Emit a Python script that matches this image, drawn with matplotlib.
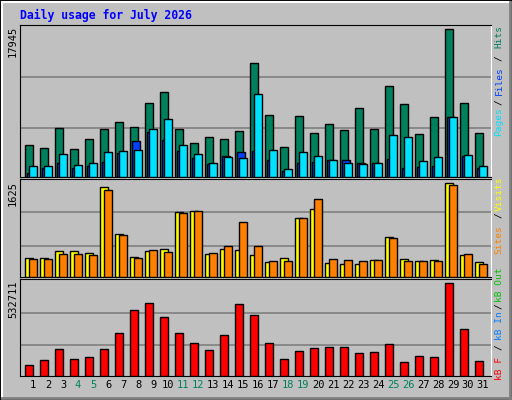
import matplotlib.pyplot as plt
import numpy as np
from matplotlib.lines import Line2D

days = np.arange(1, 32)
weekend = [4, 5, 11, 12, 18, 19, 25, 26]

hits = [3940, 3570, 6010, 3450, 4670, 5890, 6740, 6130, 9050, 10270, 5890, 4180,
        4910, 4670, 5640, 13800, 7590, 3690, 7470, 5400, 6500, 5770, 8440, 5890,
        11000, 8810, 5280, 7230, 17945, 9050, 5400]
files = [490, 1140, 1750, 1140, 1380, 1870, 2960, 4430, 5520, 4550, 3210, 2350,
         1620, 2600, 3090, 3210, 2110, 770, 1750, 1870, 2110, 2110, 1750, 1750,
         2230, 1140, 1260, 1380, 7350, 2600, 1140]
pages = [1380, 1380, 2840, 1500, 1750, 3090, 3210, 3330, 5890, 7100, 3940, 2840,
         1750, 2480, 2350, 10030, 3330, 1020, 3090, 2600, 2110, 1750, 1620, 1750,
         5160, 4910, 1990, 2480, 7350, 2720, 1380]
visits = [323, 323, 446, 446, 411, 1555, 745, 340, 446, 481, 1132, 1150,
          393, 481, 464, 376, 252, 323, 1027, 1185, 235, 217, 217, 288,
          692, 305, 270, 288, 1625, 376, 252]
sites = [305, 305, 393, 393, 376, 1502, 728, 323, 464, 428, 1115, 1150,
         411, 534, 957, 534, 270, 270, 1027, 1361, 305, 288, 270, 288,
         675, 270, 270, 270, 1590, 393, 217]
kbytes = [60270, 89430, 153590, 95270, 106930, 153590, 246910, 381070, 421900, 340240,
          246910, 188590, 147760, 235250, 416060, 351900, 188590, 95270, 141930, 159420,
          165260, 165260, 130260, 136100, 182750, 77770, 112760, 106930, 532711, 270250, 83600]

BG = '#C0C0C0'
W, H = 512, 400

fig = plt.figure(figsize=(W / 100, H / 100), dpi=100, facecolor=BG)


def px_axes(top, bottom, left=20, right=491):
    return fig.add_axes([left / W, 1 - bottom / H, (right - left) / W, (bottom - top) / H])


def style(ax, top_val, max_h_frac, grid):
    ax.set_facecolor(BG)
    ax.set_xlim(0.13, 31.53)
    ax.set_ylim(0, top_val / max_h_frac)
    for g in grid:
        ax.axhline(top_val * g, color='#808080', lw=1.2, zorder=0)
    ax.set_yticks([])
    ax.tick_params(axis='x', length=0)
    for s in ['left', 'top', 'bottom']:
        ax.spines[s].set_color('black')
    ax.spines['right'].set_color('white')


bw = 0.49
kw = dict(width=bw, align='edge', edgecolor='black', linewidth=1, zorder=3)

ax1 = px_axes(25.3, 177)
style(ax1, 17945, 442 / 454, [0.335, 0.68])
ax1.bar(days - 0.51, hits, color='#00805C', **kw)
ax1.bar(days - 0.38, files, color='#0040FF', **kw)
ax1.bar(days - 0.24, pages, color='#00E0FF', **kw)
ax1.set_xticks([])

ax2 = px_axes(179, 276.7)
style(ax2, 1625, 277 / 290, [0.33, 0.69])
ax2.bar(days - 0.51, visits, color='#FFFF00', **kw)
ax2.bar(days - 0.24, sites, color='#FF8000', **kw)
ax2.set_xticks([])

ax3 = px_axes(279, 375.7)
style(ax3, 532711, 274 / 287, [0.33, 0.68])
ax3.bar(days - 0.51, kbytes, color='#FF0000', **kw)
ax3.set_xticks(days)
ax3.set_xticklabels([str(d) for d in days], family='DejaVu Sans Mono', fontsize=7.5)
for lab, d in zip(ax3.get_xticklabels(), days):
    if d in weekend:
        lab.set_color('#00805C')
ax3.tick_params(axis='x', pad=3)

mono = dict(family='DejaVu Sans Mono', fontsize=6.8, rotation=90, ha='center', va='center')


def ftext(x, y, s, **k):
    fig.text(x / W, 1 - y / H, s, **k)


# max value labels on the left
for y, s in [(26, '17945'), (181, '1625'), (281, '532711')]:
    fig.text(13 / W, 1 - y / H, s, family='DejaVu Sans Mono', fontsize=7.5,
             rotation=90, ha='center', va='top')

# legend text on the right
labels = [
    (36, 'Hits', '#00805C'), (58, '/', 'black'), (81, 'Files', '#0040FF'),
    (102, '/', 'black'), (122, 'Pages', '#00E0FF'),
    (194, 'Visits', '#FFFF00'), (215, '/', 'black'), (240, 'Sites', '#FF8000'),
    (285, 'kB Out', '#00C000'), (306, '/', 'black'), (326, 'kB In', '#0080FF'),
    (347, '/', 'black'), (368, 'kB F', '#FF0000'),
]
for y, s, c in labels:
    ftext(499, y, s, color=c, **mono)

ftext(20, 15, 'Daily usage for July 2026', color='#0000FF', family='DejaVu Sans Mono',
      fontsize=8.3, fontweight='bold', ha='left', va='center')

# outer 3D frame
def fline(xs, ys, c, lw=1):
    fig.add_artist(Line2D([x / W for x in xs], [1 - y / H for y in ys], color=c, lw=lw))

fline([0.5, 511.5, 511.5, 0.5, 0.5], [0.5, 0.5, 399.5, 399.5, 0.5], 'black', 1.5)
fline([2, 510], [2, 2], 'white', 1.5)
fline([2, 2], [2, 398], 'white', 1.5)
fline([2, 510], [397.5, 397.5], '#808080', 2)
fline([509.5, 509.5], [2, 398], '#808080', 2)

fig.savefig('out.png', dpi=100, facecolor=BG)
